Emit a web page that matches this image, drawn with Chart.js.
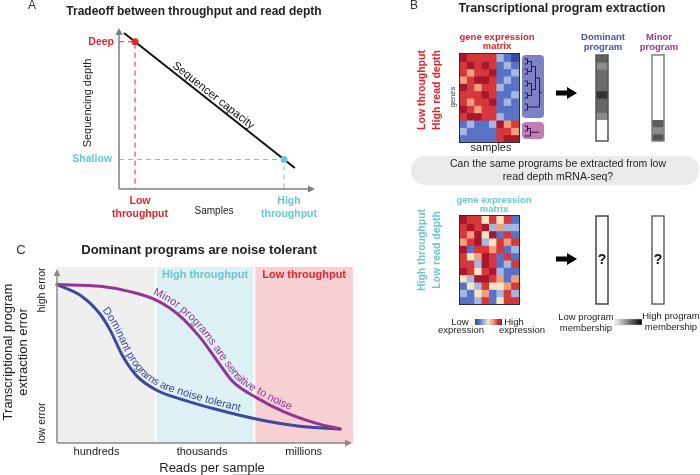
<!DOCTYPE html>
<html lang="en">
<head>
<meta charset="UTF-8">
<title>Throughput vs read depth</title>
<script src="https://cdn.jsdelivr.net/npm/chart.js"></script>
<style>
  body { margin: 0; background: #fff; }
  #wrap { position: relative; width: 700px; height: 475px; overflow: hidden; }
  #wrap canvas { position: absolute; }
</style>
</head>
<body>
<div id="wrap">
  <canvas id="notes" width="700" height="475" style="left:0;top:0"></canvas>
  <canvas id="tradeoff" width="360" height="230" style="left:0;top:0"></canvas>
  <canvas id="noise" width="360" height="245" style="left:0;top:230px"></canvas>
  <canvas id="heatTop" width="61" height="90" style="left:459px;top:53px"></canvas>
  <canvas id="heatBottom" width="61" height="90" style="left:459px;top:215px"></canvas>
  <canvas id="domTop" width="16" height="90" style="left:594px;top:53px"></canvas>
  <canvas id="minTop" width="16" height="90" style="left:650px;top:53px"></canvas>
  <canvas id="domBottom" width="16" height="92" style="left:594px;top:214px"></canvas>
  <canvas id="minBottom" width="16" height="92" style="left:650px;top:214px"></canvas>
</div>

<script>
    // panel A: sequencer capacity line
    const capacityX = [0.026, 0.921];
    const capacityY = [0.969, 0.130];
    const depthLabels = ['Deep', 'Shallow'];
    const depthValues = [0.915, 0.183];
    const throughputLabels = [['Low', 'throughput'], ['High', 'throughput']];
    const throughputValues = [0.084, 0.864];

    // panel C: extraction error vs reads per sample (x: 0-1 hundreds, 1-2 thousands, 2-3 millions)
    const readBandLabels = ['hundreds', 'thousands', 'millions'];
    const readBandStart = [0, 1, 2];
    const readBandEnd = [1, 2, 3];
    const readTickX = [0.4, 1.47, 2.5];
    const bandTitles = ['', 'High throughput', 'Low throughput'];
    const dominantReads = [0.0, 0.26, 0.44, 0.54, 0.67, 0.81, 1.01, 1.28, 1.62, 2.03, 2.46, 2.87];
    const dominantError = [0.90, 0.83, 0.73, 0.64, 0.49, 0.38, 0.30, 0.245, 0.19, 0.135, 0.095, 0.08];
    const minorReads = [0.0, 0.44, 0.74, 1.01, 1.25, 1.45, 1.62, 1.78, 2.03, 2.29, 2.64, 2.87];
    const minorError = [0.90, 0.89, 0.86, 0.81, 0.72, 0.60, 0.47, 0.35, 0.255, 0.18, 0.11, 0.08];

    // panel B: expression level 0 (low) .. 6 (high), rows = genes top to bottom
    const samples = ['s1', 's2', 's3', 's4', 's5', 's6', 's7', 's8'];
    const genes = ['g1', 'g2', 'g3', 'g4', 'g5', 'g6', 'g7', 'g8', 'g9', 'g10', 'g11', 'g12'];
    const deepMatrix = [
        [6, 5, 5, 5, 5, 2, 1, 0],
        [5, 6, 5, 6, 5, 1, 2, 1],
        [5, 4, 5, 5, 6, 1, 1, 2],
        [4, 5, 6, 6, 5, 1, 2, 1],
        [6, 5, 4, 5, 5, 2, 1, 1],
        [5, 5, 5, 6, 5, 1, 1, 2],
        [5, 4, 5, 5, 6, 1, 2, 1],
        [6, 5, 4, 5, 5, 1, 1, 1],
        [5, 6, 6, 5, 5, 2, 1, 1],
        [1, 2, 1, 1, 2, 6, 4, 5],
        [2, 1, 1, 1, 1, 5, 5, 4],
        [1, 1, 1, 1, 1, 5, 6, 6]
    ];
    const shallowMatrix = [
        [6, 5, 5, 3, 5, 3, 5, 1],
        [5, 6, 5, 6, 2, 4, 2, 2],
        [5, 4, 6, 3, 6, 1, 5, 1],
        [4, 5, 6, 2, 3, 5, 4, 5],
        [6, 1, 5, 5, 4, 5, 1, 2],
        [5, 3, 4, 6, 5, 1, 5, 1],
        [5, 5, 2, 6, 5, 1, 2, 5],
        [6, 5, 3, 5, 6, 2, 1, 1],
        [3, 2, 6, 6, 5, 4, 1, 4],
        [1, 3, 2, 5, 3, 3, 4, 5],
        [2, 1, 3, 4, 1, 2, 5, 2],
        [1, 1, 2, 5, 1, 3, 5, 5]
    ];
    const dominantMembership = [0.62, 0.45, 0.58, 0.58, 0.58, 0.80, 0.60, 0.60, 0.45, 0, 0, 0];
    const minorMembership = [0, 0, 0, 0, 0, 0, 0, 0, 0, 0.64, 0.46, 0.67];

    const FONT = '"Liberation Sans", Arial, Helvetica, sans-serif';
    const RED = '#e2252c', CYAN = '#6cc6d1', BLUE = '#3c4a9e', PURPLE = '#943592';
    const expressionColors = ['#3848a6', '#5a72c6', '#a4b6e2', '#f3e4c4', '#f09e7d', '#d5383b', '#a9172d'];

    function text(ctx, str, x, y, size, color, opts = {}) {
        ctx.save();
        ctx.translate(x, y);
        if (opts.rotate) ctx.rotate(opts.rotate);
        ctx.font = (opts.weight || 'normal') + ' ' + size + 'px ' + FONT;
        ctx.fillStyle = color;
        ctx.textAlign = opts.align || 'center';
        ctx.textBaseline = opts.baseline || 'middle';
        ctx.fillText(str, 0, 0);
        ctx.restore();
    }

    function arrowLine(ctx, x0, y0, x1, y1, color) {
        const ang = Math.atan2(y1 - y0, x1 - x0);
        const len = 7, half = 3.5;
        ctx.save();
        ctx.strokeStyle = color;
        ctx.fillStyle = color;
        ctx.lineWidth = 1.5;
        ctx.beginPath();
        ctx.moveTo(x0, y0);
        ctx.lineTo(x1 - Math.cos(ang) * len, y1 - Math.sin(ang) * len);
        ctx.stroke();
        ctx.beginPath();
        ctx.moveTo(x1, y1);
        ctx.lineTo(x1 - Math.cos(ang) * len - Math.sin(ang) * half, y1 - Math.sin(ang) * len + Math.cos(ang) * half);
        ctx.lineTo(x1 - Math.cos(ang) * len + Math.sin(ang) * half, y1 - Math.sin(ang) * len - Math.cos(ang) * half);
        ctx.closePath();
        ctx.fill();
        ctx.restore();
    }

    function roundBox(ctx, x, y, w, h, r, fill) {
        ctx.save();
        ctx.beginPath();
        ctx.moveTo(x + r, y);
        ctx.arcTo(x + w, y, x + w, y + h, r);
        ctx.arcTo(x + w, y + h, x, y + h, r);
        ctx.arcTo(x, y + h, x, y, r);
        ctx.arcTo(x, y, x + w, y, r);
        ctx.closePath();
        ctx.fillStyle = fill;
        ctx.fill();
        ctx.restore();
    }

    function blockArrow(ctx, x, y) {
        ctx.save();
        ctx.fillStyle = '#000';
        ctx.fillRect(x, y - 2.5, 12, 5);
        ctx.beginPath();
        ctx.moveTo(x + 11, y - 6);
        ctx.lineTo(x + 21, y);
        ctx.lineTo(x + 11, y + 6);
        ctx.closePath();
        ctx.fill();
        ctx.restore();
    }

    function grey(v) {
        const g = Math.round(255 * (1 - v));
        return 'rgb(' + g + ',' + g + ',' + g + ')';
    }

    // sample the drawn bezier of a line dataset
    function curvePoints(meta) {
        const pts = meta.data, out = [];
        for (let i = 0; i < pts.length - 1; i++) {
            const a = pts[i], b = pts[i + 1];
            const c1x = a.cp2x ?? a.x, c1y = a.cp2y ?? a.y, c2x = b.cp1x ?? b.x, c2y = b.cp1y ?? b.y;
            for (let k = 0; k < 24; k++) {
                const t = k / 24, m = 1 - t;
                out.push({
                    x: m * m * m * a.x + 3 * m * m * t * c1x + 3 * m * t * t * c2x + t * t * t * b.x,
                    y: m * m * m * a.y + 3 * m * m * t * c1y + 3 * m * t * t * c2y + t * t * t * b.y
                });
            }
        }
        const last = pts[pts.length - 1];
        out.push({ x: last.x, y: last.y });
        return out;
    }

    function textAlongCurve(ctx, path, str, startX, offset, color, size) {
        const cum = [0];
        for (let i = 1; i < path.length; i++) {
            cum.push(cum[i - 1] + Math.hypot(path[i].x - path[i - 1].x, path[i].y - path[i - 1].y));
        }
        const at = s => {
            let i = 1;
            while (i < path.length - 1 && cum[i] < s) i++;
            const a = path[i - 1], b = path[i];
            const t = Math.min(1, Math.max(0, (s - cum[i - 1]) / ((cum[i] - cum[i - 1]) || 1)));
            return { x: a.x + (b.x - a.x) * t, y: a.y + (b.y - a.y) * t };
        };
        let s = cum[Math.max(0, path.findIndex(p => p.x >= startX))];
        ctx.save();
        ctx.font = size + 'px ' + FONT;
        ctx.fillStyle = color;
        ctx.textAlign = 'center';
        ctx.textBaseline = 'alphabetic';
        for (const ch of str) {
            const w = ctx.measureText(ch).width;
            const p = at(s + w / 2), p1 = at(s), p2 = at(s + w);
            const ang = Math.atan2(p2.y - p1.y, p2.x - p1.x);
            ctx.save();
            ctx.translate(p.x + Math.sin(ang) * offset, p.y - Math.cos(ang) * offset);
            ctx.rotate(ang);
            ctx.fillText(ch, 0, 0);
            ctx.restore();
            s += w;
        }
        ctx.restore();
    }

    const quiet = {
        legend: { display: false },
        tooltip: { enabled: false }
    };

    // ---------- Panel A ----------
    const tradeoffPlugin = {
        id: 'tradeoffText',
        afterDraw(chart) {
            const ctx = chart.ctx, a = chart.chartArea;
            const xs = chart.scales.x, ys = chart.scales.y;
            text(ctx, 'A', 32, 6, 12, '#333');
            text(ctx, 'Tradeoff between throughput and read depth', 194, 12, 12, '#222', { weight: 'bold' });
            arrowLine(ctx, a.left, a.bottom, a.left, a.top, '#7d7d7d');
            arrowLine(ctx, a.left, a.bottom, a.right + 5, a.bottom, '#7d7d7d');
            const depthColors = [RED, CYAN];
            depthLabels.forEach((lab, i) => {
                text(ctx, lab, a.left - (i ? 7 : 5), ys.getPixelForValue(depthValues[i]), 10.5, depthColors[i], { weight: 'bold', align: 'right' });
            });
            throughputLabels.forEach((lines, i) => {
                const x = xs.getPixelForValue(throughputValues[i]) + 5;
                lines.forEach((ln, j) => text(ctx, ln, x, 201 + j * 13, 10.5, depthColors[i], { weight: 'bold' }));
            });
            text(ctx, 'Samples', 214, 211, 10, '#222');
            text(ctx, 'Sequencing depth', 88, 103, 11, '#222', { rotate: -Math.PI / 2 });
            // label along the capacity line
            const p0 = chart.getDatasetMeta(1).data[0], p1 = chart.getDatasetMeta(1).data[1];
            const ang = Math.atan2(p1.y - p0.y, p1.x - p0.x);
            const mx = (p0.x + p1.x) / 2, my = (p0.y + p1.y) / 2;
            text(ctx, 'Sequencer capacity', mx + Math.sin(ang) * 3, my - Math.cos(ang) * 3, 11.5, '#111',
                { rotate: ang, baseline: 'alphabetic' });
        }
    };

    new Chart(document.getElementById('tradeoff'), {
        type: 'scatter',
        data: {
            datasets: [
                {
                    label: 'Selected designs',
                    data: throughputValues.map((x, i) => ({ x: x, y: depthValues[i] })),
                    pointRadius: 3.5,
                    pointBackgroundColor: [RED, CYAN],
                    pointBorderWidth: 0
                },
                {
                    label: 'Sequencer capacity',
                    data: capacityX.map((x, i) => ({ x: x, y: capacityY[i] })),
                    showLine: true,
                    borderColor: '#111',
                    borderWidth: 2,
                    pointRadius: 0
                },
                {
                    label: 'Deep guide',
                    data: [{ x: 0, y: depthValues[0] }, { x: throughputValues[0], y: depthValues[0] }, { x: throughputValues[0], y: 0 }],
                    showLine: true,
                    borderColor: RED,
                    borderWidth: 1,
                    borderDash: [5, 4],
                    pointRadius: 0
                },
                {
                    label: 'Shallow guide',
                    data: [{ x: 0, y: depthValues[1] }, { x: throughputValues[1], y: depthValues[1] }, { x: throughputValues[1], y: 0 }],
                    showLine: true,
                    borderColor: CYAN,
                    borderWidth: 1,
                    borderDash: [5, 4],
                    pointRadius: 0
                }
            ]
        },
        options: {
            responsive: false,
            animation: false,
            layout: { padding: { left: 119, right: 50, top: 28, bottom: 41 } },
            scales: {
                x: { type: 'linear', min: 0, max: 1, display: false },
                y: { min: 0, max: 1, display: false }
            },
            plugins: quiet
        },
        plugins: [tradeoffPlugin]
    });

    // ---------- Panel C ----------
    const bandColors = ['#efefef', '#ddf1f4', '#f8cfd3'];
    const bandTitleColors = ['#999', CYAN, RED];
    const noisePlugin = {
        id: 'noiseText',
        beforeDatasetsDraw(chart) {
            const ctx = chart.ctx, a = chart.chartArea, xs = chart.scales.x;
            ctx.save();
            readBandStart.forEach((start, i) => {
                const l = xs.getPixelForValue(start) + (i > 0 ? 1 : 0);
                const r = xs.getPixelForValue(readBandEnd[i]) - (i < readBandStart.length - 1 ? 1 : 0);
                ctx.fillStyle = bandColors[i];
                ctx.fillRect(l, a.top, r - l, a.bottom - a.top);
                if (bandTitles[i]) {
                    text(ctx, bandTitles[i], (l + r) / 2, a.top + 8, 11, bandTitleColors[i], { weight: 'bold' });
                }
            });
            ctx.restore();
        },
        afterDatasetsDraw(chart) {
            const ctx = chart.ctx, a = chart.chartArea, xs = chart.scales.x;
            arrowLine(ctx, a.left, a.bottom, a.left, a.top + 2, '#8a8a8a');
            arrowLine(ctx, a.left, a.bottom, a.right - 1, a.bottom, '#8a8a8a');
            text(ctx, 'C', 21, 20, 13, '#333');
            text(ctx, 'Dominant programs are noise tolerant', 199, 20, 13, '#222', { weight: 'bold' });
            text(ctx, 'high error', 42, 60, 10.5, '#222', { rotate: -Math.PI / 2 });
            text(ctx, 'low error', 42, 193, 10.5, '#222', { rotate: -Math.PI / 2 });
            text(ctx, 'Transcriptional program', 8, 122, 13, '#222', { rotate: -Math.PI / 2 });
            text(ctx, 'extraction error', 23, 122, 13, '#222', { rotate: -Math.PI / 2 });
            readBandLabels.forEach((lab, i) => {
                text(ctx, lab, xs.getPixelForValue(readTickX[i]), 222, 11, '#222');
            });
            text(ctx, 'Reads per sample', 212, 238, 13, '#222');
            const minorPath = curvePoints(chart.getDatasetMeta(0));
            const domPath = curvePoints(chart.getDatasetMeta(1));
            textAlongCurve(ctx, minorPath, 'Minor programs are sensitive to noise', xs.getPixelForValue(0.95), 4, PURPLE, 11);
            textAlongCurve(ctx, domPath, 'Dominant programs are noise tolerant', xs.getPixelForValue(0.42), 4, BLUE, 11);
        }
    };

    new Chart(document.getElementById('noise'), {
        type: 'scatter',
        data: {
            datasets: [
                {
                    label: 'Minor programs',
                    data: minorReads.map((x, i) => ({ x: x, y: minorError[i] })),
                    showLine: true,
                    borderColor: PURPLE,
                    borderWidth: 3,
                    borderCapStyle: 'round',
                    cubicInterpolationMode: 'monotone',
                    pointRadius: 0,
                    clip: false
                },
                {
                    label: 'Dominant programs',
                    data: dominantReads.map((x, i) => ({ x: x, y: dominantError[i] })),
                    showLine: true,
                    borderColor: BLUE,
                    borderWidth: 3,
                    borderCapStyle: 'round',
                    cubicInterpolationMode: 'monotone',
                    pointRadius: 0,
                    clip: false
                }
            ]
        },
        options: {
            responsive: false,
            animation: false,
            layout: { padding: { left: 57, right: 7, top: 37, bottom: 32 } },
            scales: {
                x: { type: 'linear', min: 0, max: 3, display: false },
                y: { min: 0, max: 1, display: false }
            },
            plugins: quiet
        },
        plugins: [noisePlugin]
    });

    // ---------- Panel B: heatmaps and program bars ----------
    function frame(color, width, crisp) {
        return {
            id: 'frame',
            afterDatasetsDraw(chart) {
                const a = chart.chartArea, ctx = chart.ctx;
                ctx.save();
                ctx.strokeStyle = color;
                ctx.lineWidth = width;
                if (crisp) ctx.strokeRect(a.left - 0.5, a.top - 0.5, a.right - a.left + 1, a.bottom - a.top + 1);
                else ctx.strokeRect(a.left, a.top, a.right - a.left, a.bottom - a.top);
                ctx.restore();
            }
        };
    }

    function stackOptions(pad) {
        return {
            responsive: false,
            animation: false,
            layout: { padding: pad },
            datasets: { bar: { barPercentage: 1, categoryPercentage: 1, borderWidth: 0, inflateAmount: 0.5 } },
            scales: {
                x: { stacked: true, display: false },
                y: { stacked: true, display: false, reverse: true, min: 0, max: genes.length }
            },
            plugins: quiet
        };
    }

    function matrixChart(id, matrix) {
        new Chart(document.getElementById(id), {
            type: 'bar',
            data: {
                labels: samples,
                datasets: matrix.map((row, r) => ({
                    label: genes[r],
                    data: row.map(() => 1),
                    backgroundColor: row.map(v => expressionColors[v])
                }))
            },
            options: stackOptions(1),
            plugins: [frame('#2d2d2d', 1, true)]
        });
    }

    function programChart(id, membership, frameColor) {
        const question = {
            id: 'unknown',
            afterDraw(chart) {
                if (membership) return;
                const a = chart.chartArea;
                text(chart.ctx, '?', (a.left + a.right) / 2, (a.top + a.bottom) / 2, 14, '#111', { weight: 'bold' });
            }
        };
        new Chart(document.getElementById(id), {
            type: 'bar',
            data: {
                labels: ['program'],
                datasets: (membership || []).map((v, r) => ({
                    label: genes[r],
                    data: [1],
                    backgroundColor: grey(v)
                }))
            },
            options: stackOptions(2),
            plugins: [frame(frameColor, 1.5, false), question]
        });
    }

    matrixChart('heatTop', deepMatrix);
    matrixChart('heatBottom', shallowMatrix);
    programChart('domTop', dominantMembership, '#555');
    programChart('minTop', minorMembership, '#808080');
    programChart('domBottom', null, '#444');
    programChart('minBottom', null, '#666');

    // ---------- Panel B: annotations ----------
    function dendrogram(ctx) {
        ctx.save();
        ctx.strokeStyle = '#1b1f4a';
        ctx.lineWidth = 1;
        const seg = (x0, y0, x1, y1) => { ctx.beginPath(); ctx.moveTo(x0, y0); ctx.lineTo(x1, y1); ctx.stroke(); };
        const join = (ya, yb, xa, xb, x) => { seg(xa, ya, x, ya); seg(xb, yb, x, yb); seg(x, ya, x, yb); return (ya + yb) / 2; };
        const j1 = join(59, 64, 524.5, 524.5, 527.5);
        const j2 = join(69, 74, 524.5, 524.5, 527.5);
        const j12 = join(j1, j2, 527.5, 527.5, 531.5);
        const j3 = join(81, 86, 524.5, 524.5, 527.5);
        const j4 = join(93, 98, 524.5, 524.5, 527.5);
        const j34 = join(j3, j4, 527.5, 527.5, 531.5);
        const j5 = join(104, 110, 524.5, 524.5, 527.5);
        const jA = join(j12, j34, 531.5, 531.5, 535.5);
        const jB = join(jA, j5, 535.5, 527.5, 539.5);
        seg(539.5, jB, 542, jB);
        const k1 = join(126, 131, 524.5, 524.5, 527.5);
        const k2 = join(k1, 136, 527.5, 524.5, 530.5);
        seg(530.5, k2, 539, k2);
        ctx.restore();
    }

    const notesPlugin = {
        id: 'notes',
        afterDraw(chart) {
            const ctx = chart.ctx;
            text(ctx, 'B', 414, 6, 12, '#333');
            text(ctx, 'Transcriptional program extraction', 562, 9, 12.5, '#222', { weight: 'bold' });

            // deep sequencing row
            text(ctx, 'gene expression', 497, 37, 9.5, RED, { weight: 'bold' });
            text(ctx, 'matrix', 497, 46, 9.5, RED, { weight: 'bold' });
            text(ctx, 'Low throughput', 422, 90, 10.5, RED, { weight: 'bold', rotate: -Math.PI / 2 });
            text(ctx, 'High read depth', 437, 90, 10.5, RED, { weight: 'bold', rotate: -Math.PI / 2 });
            text(ctx, 'genes', 453, 97, 7.5, '#444', { rotate: -Math.PI / 2 });
            text(ctx, 'samples', 491, 148, 11, '#222');
            roundBox(ctx, 522, 55, 22, 63, 4, '#7c82c5');
            roundBox(ctx, 522, 122, 22, 17, 4, '#c57cb5');
            dendrogram(ctx);
            blockArrow(ctx, 556, 93);
            text(ctx, 'Dominant', 603, 37, 9.5, '#4b52a3', { weight: 'bold' });
            text(ctx, 'program', 603, 47, 9.5, '#4b52a3', { weight: 'bold' });
            text(ctx, 'Minor', 659, 37, 9.5, '#a0398f', { weight: 'bold' });
            text(ctx, 'program', 659, 47, 9.5, '#a0398f', { weight: 'bold' });

            // question box
            roundBox(ctx, 411, 156, 288, 29, 14, '#ebebeb');
            text(ctx, 'Can the same programs be extracted from low', 558, 164, 10.5, '#222');
            text(ctx, 'read depth mRNA-seq?', 558, 177, 10.5, '#222');

            // shallow sequencing row
            text(ctx, 'gene expression', 494, 200, 9.5, CYAN, { weight: 'bold' });
            text(ctx, 'matrix', 494, 209, 9.5, CYAN, { weight: 'bold' });
            text(ctx, 'High throughput', 422, 250, 10.5, CYAN, { weight: 'bold', rotate: -Math.PI / 2 });
            text(ctx, 'Low read depth', 437, 250, 10.5, CYAN, { weight: 'bold', rotate: -Math.PI / 2 });
            blockArrow(ctx, 556, 259);

            // colour keys
            const g1 = ctx.createLinearGradient(475, 0, 502, 0);
            expressionColors.forEach((c, i) => g1.addColorStop(i / (expressionColors.length - 1), c));
            ctx.fillStyle = g1;
            ctx.fillRect(475, 319, 27, 6);
            text(ctx, 'Low', 460, 322, 9.5, '#222');
            text(ctx, 'expression', 461, 330, 9.5, '#222');
            text(ctx, 'High', 514, 322, 9.5, '#222');
            text(ctx, 'expression', 522, 330, 9.5, '#222');

            const g2 = ctx.createLinearGradient(615, 0, 642, 0);
            g2.addColorStop(0, '#f4f4f4');
            g2.addColorStop(1, '#000');
            ctx.fillStyle = g2;
            ctx.fillRect(615, 319, 27, 6);
            ctx.strokeStyle = '#c8c8c8';
            ctx.lineWidth = 0.5;
            ctx.strokeRect(615, 319, 27, 6);
            text(ctx, 'Low program', 586, 317, 9.5, '#222');
            text(ctx, 'membership', 586, 328, 9.5, '#222');
            text(ctx, 'High program', 671, 316, 9.5, '#222');
            text(ctx, 'membership', 671, 327, 9.5, '#222');

            ctx.strokeStyle = '#c0c0c0';
            ctx.lineWidth = 1;
            ctx.beginPath();
            ctx.moveTo(233, 474.5);
            ctx.lineTo(700, 474.5);
            ctx.stroke();
        }
    };

    new Chart(document.getElementById('notes'), {
        type: 'scatter',
        data: { datasets: [] },
        options: {
            responsive: false,
            animation: false,
            scales: { x: { display: false }, y: { display: false } },
            plugins: quiet
        },
        plugins: [notesPlugin]
    });
</script>
</body>
</html>
